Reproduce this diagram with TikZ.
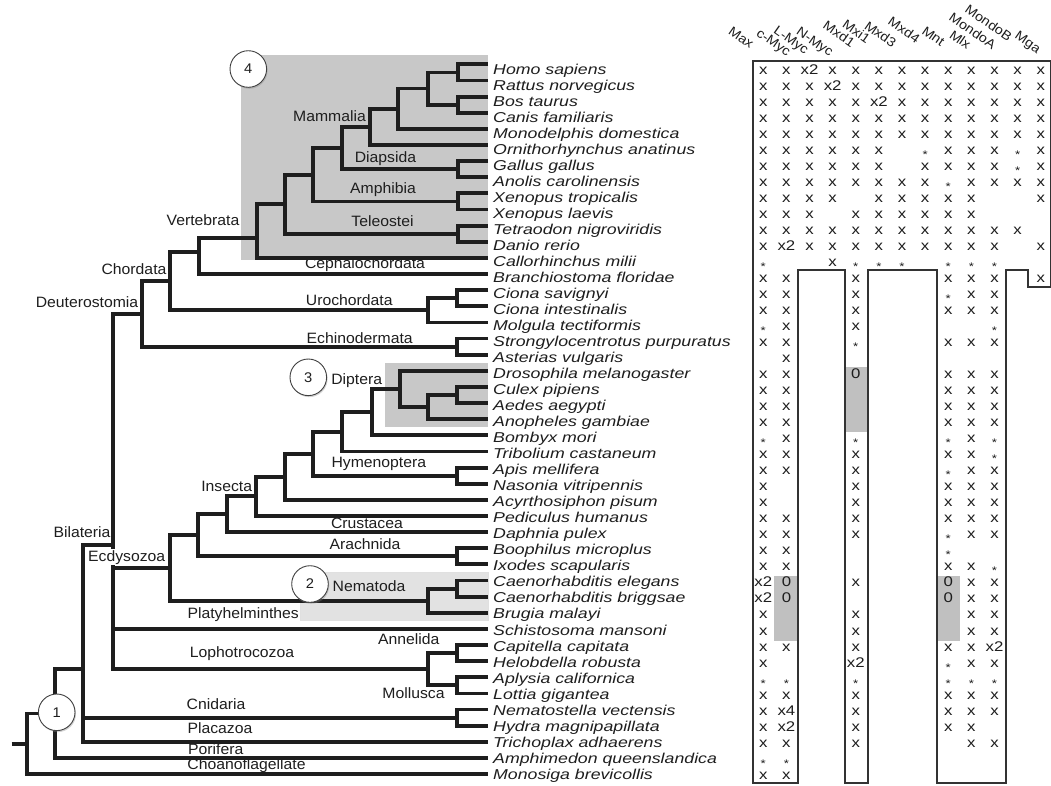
\documentclass[tikz,border=0pt]{standalone}
\usepackage{fontspec}
\setmainfont{Liberation Sans}
\newfontfamily\labfont[FakeStretch=1.05]{Liberation Sans}
\newfontfamily\spfont[FakeStretch=1.24]{Liberation Sans}
\newfontfamily\tabfont[FakeStretch=1.2]{Liberation Sans}
\newfontfamily\hdrfont[FakeStretch=1.1]{Liberation Sans}
\usetikzlibrary{shadows}
\definecolor{ink}{RGB}{30,30,30}
\definecolor{shadeA}{RGB}{200,200,200}
\definecolor{shadeB}{RGB}{226,226,226}
\definecolor{shadeT}{RGB}{192,192,192}
\newcommand\astr{{\fontsize{11}{11}\selectfont\raisebox{-4pt}{*}}}
\begin{document}
\begin{tikzpicture}[x=1pt,y=-1pt,
  br/.style={draw=ink,line width=3.8pt,line join=miter},
  lab/.style={font=\labfont\fontsize{15}{15}\selectfont,text=ink,inner sep=0pt},
  sp/.style={font=\spfont\itshape\fontsize{14.3}{15}\selectfont,anchor=base west,inner sep=0pt,text=ink},
  ent/.style={font=\tabfont\fontsize{14}{14}\selectfont,anchor=base,inner sep=0pt,text=ink},
  hdr/.style={font=\hdrfont\fontsize{13}{13}\selectfont,rotate=-35,anchor=base east,inner sep=0pt,text=ink},
  num/.style={circle,draw=black!75,line width=0.9pt,fill=white,minimum size=36.6pt,inner sep=0pt,
    font=\labfont\fontsize{14}{14}\selectfont,text=ink,
    drop shadow={opacity=0.35,shadow xshift=1pt,shadow yshift=-1.5pt}},
  tbl/.style={draw=black!80,line width=1.1pt}]
\useasboundingbox (0,0) rectangle (1051,785);
\fill[white] (0,0) rectangle (1051,785);

% shaded clades
\fill[shadeA] (240.7,55) rectangle (488,260);
\fill[shadeA] (385,362.7) rectangle (488,426.7);
\filldraw[fill=shadeB,draw=black!12,line width=0.8pt] (300,572.7) rectangle (488,620);

% ---------- tree ----------
% vertebrates
\draw[br] (488,64.3) -| (457.7,80.4) -- (488,80.4);
\draw[br] (488,96.6) -| (457.7,112.7) -- (488,112.7);
\draw[br] (457.7,72.4) -| (427.7,104.6) -- (457.7,104.6);
\draw[br] (427.7,88.5) -| (398.3,128.8) -- (488,128.8);
\draw[br] (398.3,108.7) -| (370,144.9) -- (488,144.9);
\draw[br] (488,161.1) -| (457.7,177.2) -- (488,177.2);
\draw[br] (370,126.8) -| (341.7,169.2) -- (457.7,169.2);
\draw[br] (488,193.3) -| (457.7,209.5) -- (488,209.5);
\draw[br] (341.7,148) -| (313.3,201.4) -- (457.7,201.4);
\draw[br] (488,225.6) -| (457.7,241.7) -- (488,241.7);
\draw[br] (313.3,174.7) -| (285,233.7) -- (457.7,233.7);
\draw[br] (285,204.2) -| (256.7,257.9) -- (488,257.9);
\draw[br] (256.7,238) -| (199.3,274) -- (488,274);
% chordates, deuterostomes
\draw[br] (488,290.1) -| (457.3,306.3) -- (488,306.3);
\draw[br] (457.3,298.2) -| (428.3,322.4) -- (488,322.4);
\draw[br] (199.3,252) -| (170,310.3) -- (428.3,310.3);
\draw[br] (488,338.5) -| (457.3,354.6) -- (488,354.6);
\draw[br] (170,281) -| (141.7,346.6) -- (457.3,346.6);
% ecdysozoa
\draw[br] (488,386.9) -| (457.3,403) -- (488,403);
\draw[br] (457.3,395) -| (428.3,419.2) -- (488,419.2);
\draw[br] (488,370.8) -| (400,407.1) -- (428.3,407.1);
\draw[br] (400,389) -| (371.7,435.3) -- (488,435.3);
\draw[br] (371.7,412.2) -| (341.7,451.4) -- (488,451.4);
\draw[br] (488,467.6) -| (457.3,483.7) -- (488,483.7);
\draw[br] (341.7,431.8) -| (313.3,475.7) -- (457.3,475.7);
\draw[br] (313.3,453.7) -| (285,499.8) -- (488,499.8);
\draw[br] (285,476.8) -| (256,515.9) -- (488,515.9);
\draw[br] (256,496.3) -| (227.3,532.1) -- (488,532.1);
\draw[br] (488,548.2) -| (457.3,564.3) -- (488,564.3);
\draw[br] (227.3,514.2) -| (198.3,556.3) -- (457.3,556.3);
\draw[br] (488,580.5) -| (457.3,596.6) -- (488,596.6);
\draw[br] (457.3,588.6) -| (428.3,612.7) -- (488,612.7);
\draw[br] (198.3,535.3) -| (170,600.6) -- (428.3,600.6);
% lophotrochozoa
\draw[br] (488,645) -| (457.3,661.1) -- (488,661.1);
\draw[br] (488,677.2) -| (457.3,693.4) -- (488,693.4);
\draw[br] (457.3,653) -| (428.3,685.3) -- (457.3,685.3);
% bilateria
\draw[br] (141.7,313.8) -| (113.3,669.2) -- (428.3,669.2);
\draw[br] (113.3,568) -- (170,568);
\draw[br] (113.3,628.9) -- (488,628.9);
% basal
\draw[br] (488,709.5) -| (457.3,725.6) -- (488,725.6);
\draw[br] (113.3,545) -| (83.3,741.8) -- (488,741.8);
\draw[br] (83.3,717.6) -- (457.3,717.6);
\draw[br] (83.3,669.2) -| (55,757.9) -- (488,757.9);
\draw[br] (55,713.5) -| (26.7,774) -- (488,774);
\draw[br] (11.7,744) -- (26.7,744);

% ---------- clade labels ----------
\node[lab] (mammalia) at (329.5,115.7) {Mammalia};
\node[lab] (diapsida) at (385.5,158.3) {Diapsida};
\node[lab] (amphibia) at (383,189.3) {Amphibia};
\node[lab] (teleostei) at (382.5,221) {Teleostei};
\node[lab] (vertebrata) at (203,220) {Vertebrata};
\node[lab] (cephalo) at (365,265) {Cephalochordata};
\node[lab] (chordata) at (134,269) {Chordata};
\node[lab] (deutero) at (87,301.7) {Deuterostomia};
\node[lab] (urochordata) at (349.3,300) {Urochordata};
\node[lab] (echino) at (359.7,338.3) {Echinodermata};
\node[lab] (diptera) at (356.7,381) {Diptera};
\node[lab] (hymeno) at (378.8,464) {Hymenoptera};
\node[lab] (insecta) at (226.7,486) {Insecta};
\node[lab] (crustacea) at (367,523.5) {Crustacea};
\node[lab] (bilateria) at (82,531.7) {Bilateria};
\node[lab,fill=white,inner sep=1pt] (ecdyso) at (126.7,557.3) {Ecdysozoa};
\node[lab] (arachnida) at (365,544) {Arachnida};
\node[lab] (nematoda) at (369,586) {Nematoda};
\node[lab] (platy) at (243.2,615) {Platyhelminthes};
\node[lab] (annelida) at (408.8,639) {Annelida};
\node[lab] (lopho) at (242,654) {Lophotrocozoa};
\node[lab] (mollusca) at (413.5,692.7) {Mollusca};
\node[lab] (cnidaria) at (216,704) {Cnidaria};
\node[lab] (placazoa) at (220,728.3) {Placazoa};
\node[lab] (porifera) at (215.7,749.3) {Porifera};
\node[lab] (choano) at (246.5,765.7) {Choanoflagellate};

% numbered circles
\node[num] (c4) at (248.3,69) {4};
\node[num] (c3) at (308.3,377.3) {3};
\node[num] (c2) at (310,584) {2};
\node[num] (c1) at (56.7,712.3) {1};

% ---------- species ----------
\foreach \i/\nm in {1/Homo sapiens,2/Rattus norvegicus,3/Bos taurus,4/Canis familiaris,
  5/Monodelphis domestica,6/Ornithorhynchus anatinus,7/Gallus gallus,8/Anolis carolinensis,
  9/Xenopus tropicalis,10/Xenopus laevis,11/Tetraodon nigroviridis,12/Danio rerio,
  13/Callorhinchus milii,14/Branchiostoma floridae,15/Ciona savignyi,16/Ciona intestinalis,
  17/Molgula tectiformis,18/Strongylocentrotus purpuratus,19/Asterias vulgaris,
  20/Drosophila melanogaster,21/Culex pipiens,22/Aedes aegypti,23/Anopheles gambiae,
  24/Bombyx mori,25/Tribolium castaneum,26/Apis mellifera,27/Nasonia vitripennis,
  28/Acyrthosiphon pisum,29/Pediculus humanus,30/Daphnia pulex,31/Boophilus microplus,
  32/Ixodes scapularis,33/Caenorhabditis elegans,34/Caenorhabditis briggsae,
  35/Brugia malayi,36/Schistosoma mansoni,37/Capitella capitata,38/Helobdella robusta,
  39/Aplysia californica,40/Lottia gigantea,41/Nematostella vectensis,
  42/Hydra magnipapillata,43/Trichoplax adhaerens,44/Amphimedon queenslandica,
  45/Monosiga brevicollis}
  \node[sp] (sp\i) at (493,{74.3+16.02*(\i-1)}) {\nm};

% ---------- table ----------
\fill[shadeT] (845,366.7) rectangle (868,431.7);
\fill[shadeT] (774,575.7) rectangle (798,640.7);
\fill[shadeT] (937,575.7) rectangle (960,640.7);
\draw[tbl] (753,61) -- (1051,61) -- (1051,287) -- (1028,287) -- (1028,270) -- (1006,270)
  -- (1006,783) -- (937,783) -- (937,270) -- (868,270) -- (868,783) -- (845,783)
  -- (845,270) -- (798,270) -- (798,783) -- (753,783) -- cycle;

% column headers
\node[hdr] (hMax) at (750,49) {Max};
\node[hdr] (hcMyc) at (787,57) {c-Myc};
\node[hdr] (hLMyc) at (805,55) {L-Myc};
\node[hdr] (hNMyc) at (829.6,57.2) {N-Myc};
\node[hdr] (hMxd1) at (851,48) {Mxd1};
\node[hdr] (hMxi1) at (866.4,44) {Mxi1};
\node[hdr] (hMxd3) at (892.4,48.2) {Mxd3};
\node[hdr] (hMxd4) at (916,44) {Mxd4};
\node[hdr] (hMnt) at (940.9,46.8) {Mnt};
\node[hdr] (hMlx) at (967,50) {Mlx};
\node[hdr] (hMondoA) at (992,50) {MondoA};
\node[hdr] (hMondoB) at (1008,42) {MondoB};
\node[hdr] (hMga) at (1037,54) {Mga};

\foreach \r/\vals in {
  1/{x,x,x2,x,x,x,x,x,x,x,x,x,x},
  2/{x,x,x,x2,x,x,x,x,x,x,x,x,x},
  3/{x,x,x,x,x,x2,x,x,x,x,x,x,x},
  4/{x,x,x,x,x,x,x,x,x,x,x,x,x},
  5/{x,x,x,x,x,x,x,x,x,x,x,x,x},
  6/{x,x,x,x,x,x,{},\astr,x,x,x,\astr,x},
  7/{x,x,x,x,x,x,{},x,x,x,x,\astr,x},
  8/{x,x,x,x,x,x,x,x,\astr,x,x,x,x},
  9/{x,x,x,x,{},x,x,x,x,x,{},{},x},
  10/{x,x,x,{},x,x,x,x,x,x,{},{},{}},
  11/{x,x,x,x,x,x,x,x,x,x,x,x,{}},
  12/{x,x2,x,x,x,x,x,x,x,x,x,{},x},
  13/{\astr,{},{},x,\astr,\astr,\astr,{},\astr,\astr,\astr,{},{}},
  14/{x,x,{},{},x,{},{},{},x,x,x,{},x},
  15/{x,x,{},{},x,{},{},{},\astr,x,x,{},{}},
  16/{x,x,{},{},x,{},{},{},x,x,x,{},{}},
  17/{\astr,x,{},{},x,{},{},{},{},{},\astr,{},{}},
  18/{x,x,{},{},\astr,{},{},{},x,x,x,{},{}},
  19/{{},x,{},{},{},{},{},{},{},{},{},{},{}},
  20/{x,x,{},{},0,{},{},{},x,x,x,{},{}},
  21/{x,x,{},{},{},{},{},{},x,x,x,{},{}},
  22/{x,x,{},{},{},{},{},{},x,x,x,{},{}},
  23/{x,x,{},{},{},{},{},{},x,x,x,{},{}},
  24/{\astr,x,{},{},\astr,{},{},{},\astr,x,\astr,{},{}},
  25/{x,x,{},{},x,{},{},{},x,x,\astr,{},{}},
  26/{x,x,{},{},x,{},{},{},\astr,x,x,{},{}},
  27/{x,{},{},{},x,{},{},{},x,x,x,{},{}},
  28/{x,{},{},{},x,{},{},{},x,x,x,{},{}},
  29/{x,x,{},{},x,{},{},{},x,x,x,{},{}},
  30/{x,x,{},{},x,{},{},{},\astr,x,x,{},{}},
  31/{x,x,{},{},{},{},{},{},\astr,{},{},{},{}},
  32/{x,x,{},{},{},{},{},{},x,x,\astr,{},{}},
  33/{x2,0,{},{},x,{},{},{},0,x,x,{},{}},
  34/{x2,0,{},{},{},{},{},{},0,x,x,{},{}},
  35/{x,{},{},{},x,{},{},{},{},x,x,{},{}},
  36/{x,{},{},{},x,{},{},{},{},x,x,{},{}},
  37/{x,x,{},{},x,{},{},{},x,x,x2,{},{}},
  38/{x,{},{},{},x2,{},{},{},\astr,x,x,{},{}},
  39/{\astr,\astr,{},{},\astr,{},{},{},\astr,\astr,\astr,{},{}},
  40/{x,x,{},{},x,{},{},{},x,x,x,{},{}},
  41/{x,x4,{},{},x,{},{},{},x,x,x,{},{}},
  42/{x,x2,{},{},x,{},{},{},x,x,{},{},{}},
  43/{x,x,{},{},x,{},{},{},{},x,x,{},{}},
  44/{\astr,\astr,{},{},{},{},{},{},{},{},{},{},{}},
  45/{x,x,{},{},{},{},{},{},{},{},{},{},{}}}
  \foreach \v [count=\c] in \vals
    \node[ent] (e\r-\c) at ({763.3+23.12*(\c-1)},{74.3+16.02*(\r-1)}) {\v};
\end{tikzpicture}
\end{document}
